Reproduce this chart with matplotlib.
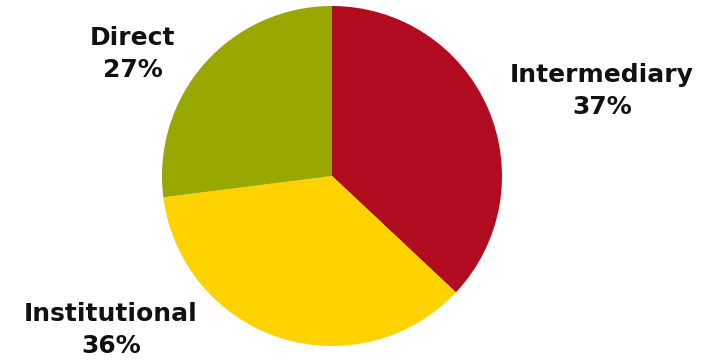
import matplotlib
matplotlib.use("Agg")
import matplotlib.pyplot as plt

# ---------- data -----------------------------------------------------------
categories = ["Intermediary", "Institutional", "Direct"]
shares = [37, 36, 27]
colors = ["#B10C1F", "#FFD200", "#99A800"]

# label anchor points (pixel coords, y from top)
label_pos = [(602, 91), (111, 330), (133, 54)]

W, H = 717, 360
fig = plt.figure(figsize=(W / 100, H / 100), dpi=100)
ax = fig.add_axes([0, 0, 1, 1])

cx, cy, r = 332, H - 176, 170
ax.pie(shares, colors=colors, startangle=90, counterclock=False,
       center=(cx, cy), radius=r, frame=True,
       wedgeprops=dict(linewidth=0))
ax.set_xlim(0, W)
ax.set_ylim(0, H)
ax.set_aspect("equal")
ax.axis("off")

for name, val, (x, y) in zip(categories, shares, label_pos):
    ax.text(x, H - y, f"{name}\n{val}%", ha="center", va="center",
            fontsize=18, fontweight="bold", family="DejaVu Sans",
            linespacing=1.45, color="#111111")

fig.savefig("out.png", dpi=100)
